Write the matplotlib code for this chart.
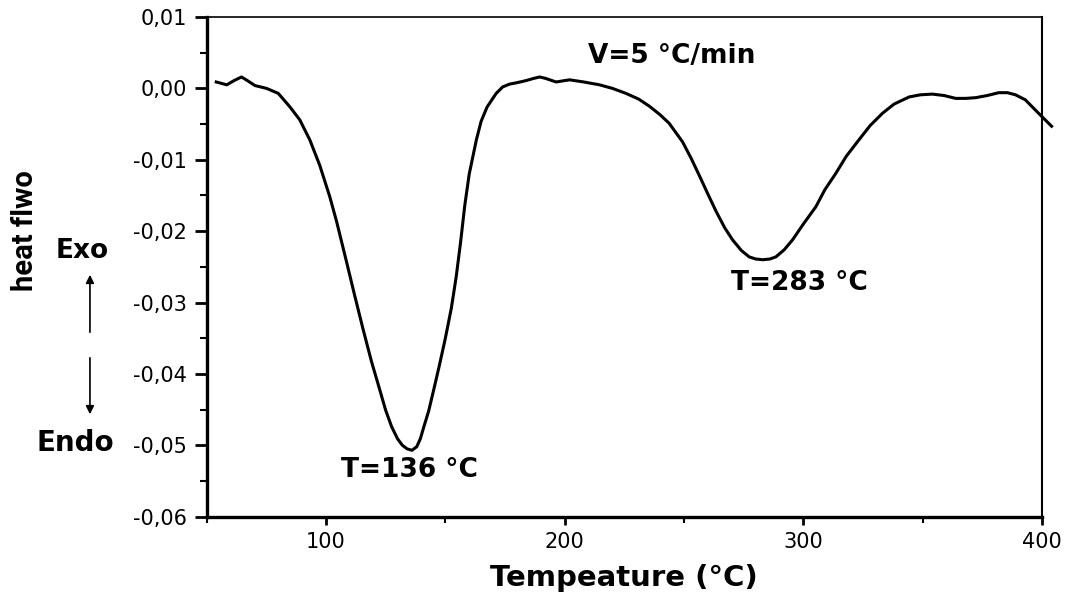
import matplotlib
matplotlib.use("Agg")
import matplotlib.pyplot as plt
from matplotlib.ticker import MultipleLocator, FuncFormatter

# DSC trace, heating rate 5 °C/min
temperature = [54, 58.4, 61.5, 64.6, 67.5, 70.2, 75.1, 80, 84.9, 89, 93.2, 97.4,
               101.6, 104.4, 108.6, 112, 115.5, 119, 122.5, 125, 127.5, 130, 132,
               134, 136, 138, 139.5, 141, 143, 145, 147.5, 150, 152.5, 154.5,
               156.4, 158.1, 160, 162, 163, 165, 167.5, 171.3, 174, 176.9, 180,
               183.9, 187, 189.5, 192, 196.4, 202, 208, 214.6, 220, 225.7, 231,
               235.5, 240, 243.8, 249.4, 253, 256.4, 260, 263.4, 267, 270.3, 274,
               277.3, 280, 283, 286, 288.5, 292, 295.5, 300, 305.2, 309, 313.6,
               318, 323.3, 328, 333.1, 338, 344.3, 349, 354, 359, 363.8, 368,
               372.2, 377, 381.9, 385.5, 388.9, 393, 398.6, 404]
heat_flow = [0.0009, 0.0005, 0.0011, 0.0016, 0.0010, 0.0004, 0.0000, -0.0007,
             -0.0026, -0.0044, -0.0072, -0.0108, -0.0152, -0.0186, -0.0243,
             -0.0290, -0.0337, -0.0382, -0.0422, -0.0451, -0.0474, -0.0491,
             -0.0500, -0.0505, -0.0507, -0.0502, -0.0491, -0.0474, -0.0452,
             -0.0424, -0.0388, -0.0350, -0.0308, -0.0265, -0.0215, -0.0165,
             -0.0120, -0.0088, -0.0072, -0.0046, -0.0026, -0.0007, 0.0002,
             0.0006, 0.0008, 0.0011, 0.0014, 0.0016, 0.0014, 0.0009, 0.0012,
             0.0009, 0.0005, 0.0000, -0.0007, -0.0015, -0.0025, -0.0037,
             -0.0049, -0.0075, -0.0098, -0.0122, -0.0148, -0.0172, -0.0195,
             -0.0212, -0.0227, -0.0236, -0.0239, -0.0240, -0.0239, -0.0236,
             -0.0226, -0.0212, -0.0190, -0.0166, -0.0142, -0.0119, -0.0095,
             -0.0072, -0.0052, -0.0035, -0.0022, -0.0012, -0.0009, -0.0008,
             -0.0010, -0.0014, -0.0014, -0.0013, -0.0010, -0.0006, -0.0006,
             -0.0009, -0.0016, -0.0035, -0.0053]

peak_labels = ["T=136 °C", "T=283 °C"]
peak_label_pos = [(135.1, -0.0534), (298.2, -0.0272)]
rate_label = "V=5 °C/min"

plt.rcParams['font.family'] = ['DejaVu Sans']

fig = plt.figure(figsize=(10.67, 5.99), dpi=100)
ax = fig.add_axes([0.1937, 0.1374, 0.7829, 0.8342])

ax.plot(temperature, heat_flow, color='black', lw=2.2, clip_on=False,
        solid_joinstyle='round')

ax.set_xlim(50, 400)
ax.set_ylim(-0.06, 0.01)
ax.xaxis.set_major_locator(MultipleLocator(100))
ax.xaxis.set_minor_locator(MultipleLocator(50))
ax.yaxis.set_major_locator(MultipleLocator(0.01))
ax.yaxis.set_minor_locator(MultipleLocator(0.005))
ax.yaxis.set_major_formatter(FuncFormatter(lambda v, p: ('%.2f' % v).replace('.', ',').replace('\u2212', '-')))
ax.xaxis.set_major_formatter(FuncFormatter(lambda v, p: '%d' % v))

ax.tick_params(which='major', direction='out', length=9, width=2, labelsize=15, pad=5)
ax.tick_params(which='minor', direction='out', length=5, width=1.5)
ax.tick_params(axis='x', which='major', length=6)
ax.tick_params(axis='x', which='minor', length=4)

ax.spines['left'].set_linewidth(2.4)
ax.spines['bottom'].set_linewidth(2.4)
ax.spines['top'].set_linewidth(1.2)
ax.spines['right'].set_linewidth(1.5)

ax.set_xlabel('Tempeature (°C)', fontsize=21, fontweight='bold', labelpad=9)
ax.set_ylabel('heat flwo', fontsize=21, fontweight='bold',
              family=['Roboto', 'DejaVu Sans'], va='center', ha='center')
ax.yaxis.set_label_coords(-0.2175, 0.572)

ax.text(245, 0.0045, rate_label, fontsize=19, fontweight='bold', ha='center', va='center')
for txt, (tx, ty) in zip(peak_labels, peak_label_pos):
    ax.text(tx, ty, txt, fontsize=19, fontweight='bold', ha='center', va='center')

# exo / endo direction markers
fig.text(0.0768, 0.5693, 'Exo', fontsize=19, fontweight='bold', ha='center', va='baseline')
fig.text(0.0710, 0.2471, 'Endo', fontsize=20, fontweight='bold', ha='center', va='baseline')
fig.add_artist(matplotlib.patches.FancyArrowPatch((0.0843, 0.4407), (0.0843, 0.5459),
               transform=fig.transFigure, arrowstyle='-|>', mutation_scale=12,
               lw=1.2, color='black'))
fig.add_artist(matplotlib.patches.FancyArrowPatch((0.0843, 0.4073), (0.0843, 0.3038),
               transform=fig.transFigure, arrowstyle='-|>', mutation_scale=12,
               lw=1.2, color='black'))

fig.savefig('out.png', dpi=100)
